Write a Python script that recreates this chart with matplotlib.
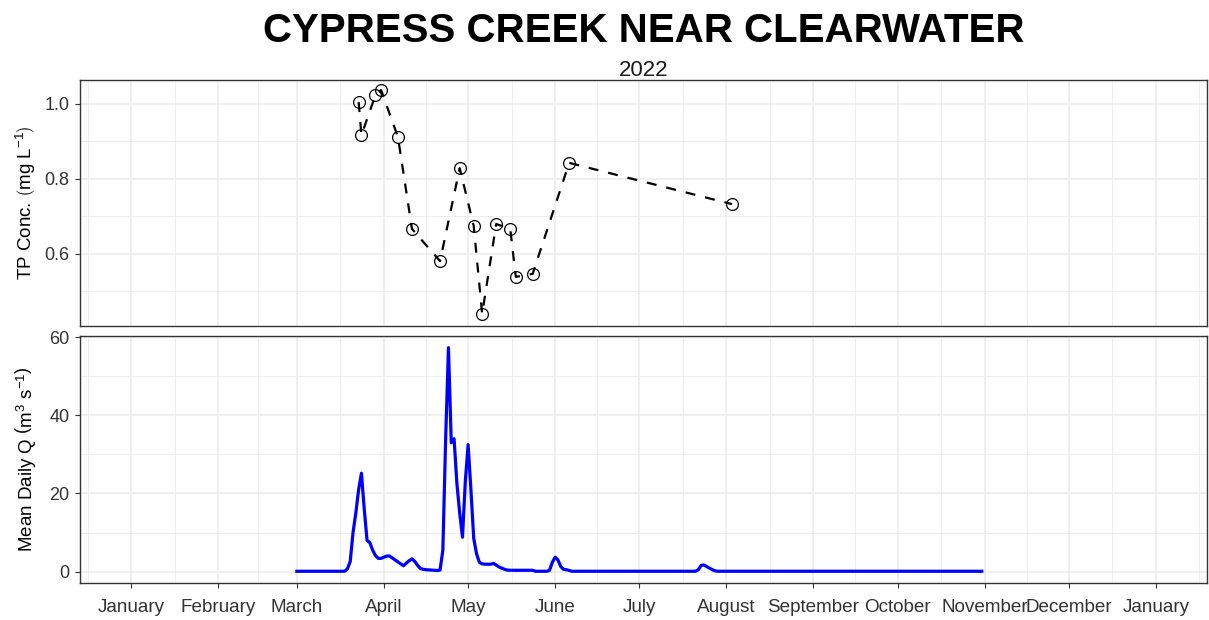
import matplotlib.pyplot as plt
import matplotlib.dates as mdates
from matplotlib.ticker import FixedLocator, MultipleLocator
import numpy as np
import pandas as pd

plt.rcParams['font.family'] = ['Liberation Sans', 'DejaVu Sans']
plt.rcParams['mathtext.fontset'] = 'custom'
plt.rcParams['mathtext.rm'] = 'Liberation Sans'
plt.rcParams['mathtext.it'] = 'Liberation Sans:italic'

# TP grab samples
tp_dates = ['2022-03-23', '2022-03-24', '2022-03-29', '2022-03-31', '2022-04-06',
            '2022-04-11', '2022-04-21', '2022-04-28', '2022-05-03', '2022-05-06',
            '2022-05-11', '2022-05-16', '2022-05-18', '2022-05-24', '2022-06-06',
            '2022-08-03']
tp_conc = [1.005, 0.917, 1.024, 1.037, 0.912, 0.667, 0.581, 0.829, 0.675, 0.44,
           0.68, 0.667, 0.539, 0.547, 0.843, 0.733]

# mean daily flow, one list per month (Mar - Oct)
q_mar = [0.1, 0.1, 0.1, 0.1, 0.1, 0.1, 0.1, 0.1, 0.1, 0.1,
         0.1, 0.1, 0.1, 0.1, 0.1, 0.1, 0.1, 0.1, 0.7, 2.6,
         10.0, 15.0, 21.0, 25.2, 16.0, 8.0, 7.4, 5.5, 4.1, 3.4, 3.4]
q_apr = [3.7, 4.0, 4.0, 3.5, 3.0, 2.5, 2.0, 1.5, 2.2, 2.8,
         3.3, 2.6, 1.6, 0.8, 0.6, 0.5, 0.45, 0.4, 0.35, 0.3,
         0.4, 5.5, 34.0, 57.3, 33.0, 34.0, 22.6, 15.0, 8.8, 23.0]
q_may = [32.5, 21.0, 8.5, 4.6, 2.4, 2.0, 1.9, 1.9, 1.9, 2.1,
         1.7, 1.2, 0.9, 0.6, 0.4, 0.35, 0.35, 0.35, 0.35, 0.35,
         0.35, 0.35, 0.35, 0.35, 0.1, 0.1, 0.1, 0.1, 0.1, 0.3, 2.4]
q_jun = [3.7, 3.0, 1.3, 0.6, 0.5, 0.3, 0.1, 0.1, 0.1, 0.1,
         0.1, 0.1, 0.1, 0.1, 0.1, 0.1, 0.1, 0.1, 0.1, 0.1,
         0.1, 0.1, 0.1, 0.1, 0.1, 0.1, 0.1, 0.1, 0.1, 0.1]
q_jul = [0.1, 0.1, 0.1, 0.1, 0.1, 0.1, 0.1, 0.1, 0.1, 0.1,
         0.1, 0.1, 0.1, 0.1, 0.1, 0.1, 0.1, 0.1, 0.1, 0.1,
         0.1, 0.5, 1.6, 1.7, 1.3, 0.9, 0.5, 0.2, 0.1, 0.1, 0.1]
q_aug = [0.1, 0.1, 0.1, 0.1, 0.1, 0.1, 0.1, 0.1, 0.1, 0.1,
         0.1, 0.1, 0.1, 0.1, 0.1, 0.1, 0.1, 0.1, 0.1, 0.1,
         0.1, 0.1, 0.1, 0.1, 0.1, 0.1, 0.1, 0.1, 0.1, 0.1, 0.1]
q_sep = [0.1, 0.1, 0.1, 0.1, 0.1, 0.1, 0.1, 0.1, 0.1, 0.1,
         0.1, 0.1, 0.1, 0.1, 0.1, 0.1, 0.1, 0.1, 0.1, 0.1,
         0.1, 0.1, 0.1, 0.1, 0.1, 0.1, 0.1, 0.1, 0.1, 0.1]
q_oct = [0.1, 0.1, 0.1, 0.1, 0.1, 0.1, 0.1, 0.1, 0.1, 0.1,
         0.1, 0.1, 0.1, 0.1, 0.1, 0.1, 0.1, 0.1, 0.1, 0.1,
         0.1, 0.1, 0.1, 0.1, 0.1, 0.1, 0.1, 0.1, 0.1, 0.1, 0.1]

flow = q_mar + q_apr + q_may + q_jun + q_jul + q_aug + q_sep + q_oct
flow_dates = pd.date_range('2022-03-01', periods=len(flow), freq='D')
tp_dates = pd.to_datetime(tp_dates)

title = 'CYPRESS CREEK NEAR CLEARWATER'
subtitle = '2022'

# x scale: Jan 2022 - Jan 2023 with 5% padding (like ggplot)
x0 = pd.Timestamp('2022-01-01')
x1 = pd.Timestamp('2023-01-01')
pad = (x1 - x0) * 0.05
months = pd.date_range('2022-01-01', '2023-01-01', freq='MS')
month_nums = mdates.date2num(months)
minor = list((month_nums[:-1] + month_nums[1:]) / 2)
minor = [month_nums[0] - (month_nums[1] - month_nums[0]) / 2] + minor + \
        [month_nums[-1] + (month_nums[1] - month_nums[0]) / 2]

fig = plt.figure(figsize=(12.09, 6.20), dpi=100)
ax1 = fig.add_axes([0.0662, 0.4742, 0.9322, 0.3968])
ax2 = fig.add_axes([0.0662, 0.0597, 0.9322, 0.3984])


def style(ax):
    ax.set_xlim(x0 - pad, x1 + pad)
    ax.xaxis.set_major_locator(FixedLocator(month_nums))
    ax.xaxis.set_minor_locator(FixedLocator(minor))
    ax.xaxis.set_major_formatter(mdates.DateFormatter('%B'))
    ax.grid(True, which='major', color='#EBEBEB', lw=1.1, zorder=0)
    ax.grid(True, which='minor', color='#EBEBEB', lw=0.6, zorder=0)
    ax.set_axisbelow(True)
    for s in ax.spines.values():
        s.set_color('#333333')
        s.set_linewidth(1.0)
    ax.tick_params(which='major', length=3.5, width=0.8, color='#333333',
                   labelsize=13, labelcolor='#333333', pad=4)
    ax.tick_params(which='minor', length=0)


style(ax1)
style(ax2)

# top panel: TP concentrations
ax1.plot(tp_dates, tp_conc, color='black', lw=1.6, dashes=(4.5, 4.5), zorder=3)
ax1.plot(tp_dates, tp_conc, 'o', ms=8.5, mfc='none', mec='black', mew=0.9, zorder=4)
ax1.set_ylim(0.408, 1.064)
ax1.yaxis.set_major_locator(FixedLocator([0.6, 0.8, 1.0]))
ax1.yaxis.set_minor_locator(FixedLocator([0.5, 0.7, 0.9]))
ax1.yaxis.set_major_formatter(plt.FuncFormatter(lambda v, p: f'{v:.1f}'))
ax1.tick_params(axis='x', which='major', length=0, labelbottom=False)
ax1.set_ylabel(r'TP Conc. $\left(\mathrm{mg\ L^{-1}}\right)$', fontsize=13.5, va='center')
ax1.yaxis.set_label_coords(-0.048, 0.5)

# bottom panel: mean daily flow
ax2.plot(flow_dates, flow, color='blue', lw=2.3, zorder=3)
ax2.set_ylim(-2.9, 60.3)
ax2.yaxis.set_major_locator(MultipleLocator(20))
ax2.yaxis.set_minor_locator(FixedLocator([10, 30, 50]))
ax2.tick_params(axis='x', which='major', pad=8, labelsize=13.6)
ax2.set_ylabel(r'Mean Daily Q $\left(\mathrm{m^3\ s^{-1}}\right)$', fontsize=13.5, va='center')
ax2.yaxis.set_label_coords(-0.048, 0.5)

fig.text(0.5323, 1 - 42 / 620, title, ha='center', va='baseline',
         fontsize=29, fontweight='bold')
fig.text(0.5323, 1 - 76 / 620, subtitle, ha='center', va='baseline', fontsize=16,
         color='#1a1a1a')

fig.savefig('out.png', dpi=100)
